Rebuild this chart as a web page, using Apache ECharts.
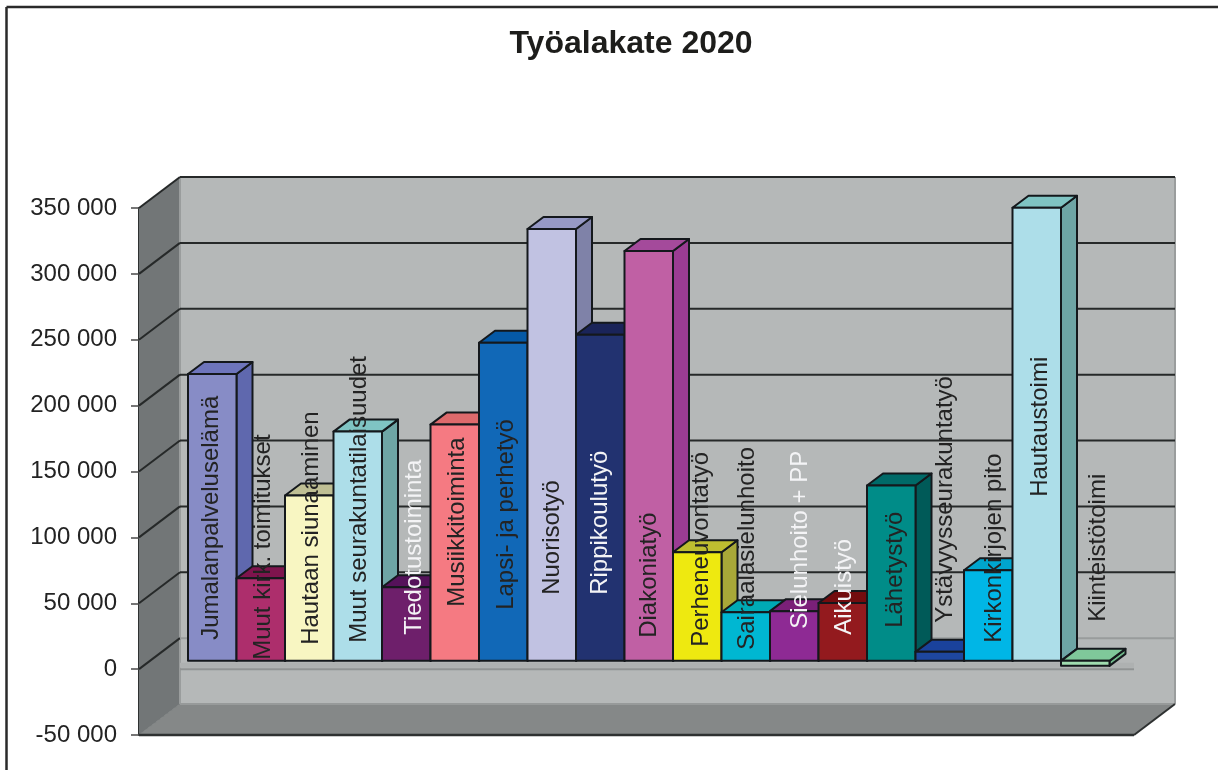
<!DOCTYPE html>
<html>
<head>
<meta charset="utf-8">
<title>Työalakate 2020</title>
<script src="https://cdn.jsdelivr.net/npm/echarts@6/dist/echarts.min.js"></script>
<style>
    html, body { margin: 0; padding: 0; background: #fff; }
    #chart { width: 1218px; height: 770px; }
</style>
</head>
<body>
<div id="chart"></div>
<script>
(() => {
    'use strict'

    const categories = [
        'Jumalanpalveluselämä', 'Muut kirk. toimitukset', 'Hautaan siunaaminen', 'Muut seurakuntatilaisuudet',
        'Tiedotustoiminta', 'Musiikkitoiminta', 'Lapsi- ja perhetyö', 'Nuorisotyö', 'Rippikoulutyö', 'Diakoniatyö',
        'Perheneuvontatyö', 'Sairaalasielunhoito', 'Sielunhoito + PP', 'Aikuistyö', 'Lähetystyö',
        'Ystävyysseurakuntatyö', 'Kirkonkirjojen pito', 'Hautaustoimi', 'Kiinteistötoimi'
    ]
    const values = [
        217700, 62700, 125500, 174000, 55800, 179300, 241400, 327800, 247500, 311100,
        82400, 36900, 37700, 43900, 133100, 6800, 68700, 343900, -3800
    ]
    const yTicks = [-50000, 0, 50000, 100000, 150000, 200000, 250000, 300000, 350000]

    const frontColors = [
        '#878cc6', '#ad2e6c', '#f8f6c2', '#addee9', '#6e1f6b', '#f57a82', '#1168b7', '#c1c2e2', '#223270', '#c060a4',
        '#eee910', '#00b7d2', '#8e2a94', '#931a1e', '#008c88', '#1e47a0', '#00b6e6', '#addee9', '#a0dcb0'
    ]
    const sideColors = [
        '#5f68ae', '#8e1f57', '#c2c090', '#6ea5a5', '#55125a', '#c85f66', '#0d4f90', '#7f82a8', '#1a2458', '#9b3c93',
        '#a8a838', '#0093a8', '#6a1a70', '#730c0e', '#005a58', '#163580', '#0090b8', '#6ea5a5', '#6fb88a'
    ]
    const topColors = [
        '#6e75bc', '#7e144d', '#bfbf94', '#7fc4c3', '#55125a', '#de6a6c', '#0559a6', '#9699c5', '#1a2459', '#a44a9b',
        '#bebe30', '#00aab5', '#7a2078', '#730c0e', '#006a68', '#1a429c', '#00a5ce', '#7fc4c3', '#7fc89a'
    ]

    // hand placed labels in the original: lift above the bar foot, shift from the bar centre
    const labelLift = [21, 1, 16, 18, 26, 54, 51, 66, 66, 23, 14, 11, 32, 26, 33, 38, 18, 164, 39]
    const labelShift = [-1, 3, 2, 2, 8, 3, 3, 1, 0, 1, 4, 2, 6, 2, 4, 6, 6, 4, 13]
    const whiteLabels = ['Tiedotustoiminta', 'Rippikoulutyö', 'Sielunhoito + PP', 'Aikuistyö']

    const AXIS_GAP = 49      // y axis sits left of the bar plane
    const RIGHT_GAP = 24.5
    const BOX_DX = 41, BOX_DY = 31
    const PLANE_DY = 8.3     // bars stand a bit behind the front of the box
    const BAR_DX = 16, BAR_DY = 12

    const poly = (points, fill, stroke, width) => ({
        type: 'polygon',
        shape: {points},
        style: {fill, stroke: stroke || 'none', lineWidth: width || 0, lineJoin: 'round'}
    })
    const line = (x1, y1, x2, y2, stroke, width) => ({
        type: 'line',
        shape: {x1, y1, x2, y2},
        style: {stroke, lineWidth: width}
    })

    const renderBox = (params, api) => {
        const c = params.coordSys
        const x0 = c.x - AXIS_GAP
        const x1 = c.x + c.width + RIGHT_GAP
        const yTop = api.coord([0, yTicks[yTicks.length - 1]])[1]
        const yLow = api.coord([0, yTicks[0]])[1]
        const yZero = api.coord([0, 0])[1]

        const children = [
            poly([[x0 + BOX_DX, yTop - BOX_DY], [x1 + BOX_DX, yTop - BOX_DY], [x1 + BOX_DX, yLow - BOX_DY], [x0 + BOX_DX, yLow - BOX_DY]], '#b5b8b8'),
            poly([[x0, yTop], [x0 + BOX_DX, yTop - BOX_DY], [x0 + BOX_DX, yLow - BOX_DY], [x0, yLow]], '#727677'),
            poly([[x0, yLow], [x0 + BOX_DX, yLow - BOX_DY], [x1 + BOX_DX, yLow - BOX_DY], [x1, yLow]], '#858888'),
            line(x0 + BOX_DX, yTop - BOX_DY, x0 + BOX_DX, yLow - BOX_DY, '#9a9d9d', 2),
            line(x1 + BOX_DX, yTop - BOX_DY, x1 + BOX_DX, yLow - BOX_DY, '#9a9d9d', 2),
            line(x0 + BOX_DX, yLow - BOX_DY, x1 + BOX_DX, yLow - BOX_DY, '#979a9a', 2),
            line(x0, yLow, x0 + BOX_DX, yLow - BOX_DY, '#7d8181', 1),
            line(x1, yLow, x1 + BOX_DX, yLow - BOX_DY, '#2e3131', 2),
            line(x0, yLow, x1, yLow, '#2e3131', 2.5)
        ]

        yTicks.forEach(tick => {
            if (tick === yTicks[0]) return
            const y = api.coord([0, tick])[1]
            const back = tick === 0 ? '#999c9c' : '#262929'
            children.push(line(x0, y, x0 + BOX_DX, y - BOX_DY, '#262929', 2))
            children.push(line(x0 + BOX_DX, y - BOX_DY, x1 + BOX_DX, y - BOX_DY, back, 2))
        })

        // front rim of the zero plane
        children.push(line(x0 + BOX_DX, yZero - 4, x1, yZero - 4, '#aeb1b1', 5))
        children.push(line(x0 + BOX_DX, yZero, x1, yZero, '#909393', 2))

        return {type: 'group', children}
    }

    const renderBar = (params, api) => {
        const i = api.value(0)
        const v = api.value(1)
        const w = api.size([1, 0])[0]
        const xc = api.coord([i, 0])[0]
        const x = xc - w / 2
        const yA = api.coord([i, Math.max(v, 0)])[1] - PLANE_DY
        const yB = api.coord([i, Math.min(v, 0)])[1] - PLANE_DY
        const edge = '#14181c'

        return {
            type: 'group',
            children: [
                poly([[x + w, yA], [x + w + BAR_DX, yA - BAR_DY], [x + w + BAR_DX, yB - BAR_DY], [x + w, yB]], sideColors[i], edge, 2),
                poly([[x, yA], [x + BAR_DX, yA - BAR_DY], [x + w + BAR_DX, yA - BAR_DY], [x + w, yA]], topColors[i], edge, 2),
                poly([[x, yA], [x + w, yA], [x + w, yB], [x, yB]], frontColors[i], edge, 2)
            ]
        }
    }

    const renderLabel = (params, api) => {
        const i = api.value(0)
        const name = categories[i]
        const pt = api.coord([i, 0])
        return {
            type: 'text',
            x: pt[0] + labelShift[i],
            y: pt[1] - PLANE_DY - labelLift[i],
            rotation: Math.PI / 2,
            style: {
                text: name,
                align: 'left',
                verticalAlign: 'middle',
                fontFamily: 'Liberation Sans',
                fontSize: 24,
                fill: whiteLabels.includes(name) ? '#f4f4f6' : '#232323'
            }
        }
    }

    const chart = echarts.init(document.getElementById('chart'))

    chart.setOption({
        animation: false,
        backgroundColor: '#fff',
        title: {
            text: 'Työalakate 2020',
            left: 626,
            top: 23,
            textAlign: 'center',
            textStyle: {fontFamily: 'Liberation Sans', fontSize: 32, fontWeight: 'bold', color: '#1d1d1b'}
        },
        graphic: [
            {type: 'line', shape: {x1: 6.5, y1: 7, x2: 1218, y2: 7}, style: {stroke: '#2a2a2a', lineWidth: 2.5}},
            {type: 'line', shape: {x1: 6.5, y1: 7, x2: 6.5, y2: 770}, style: {stroke: '#2a2a2a', lineWidth: 2.5}}
        ],
        grid: {left: 188, width: 921.5, top: 208, height: 527},
        xAxis: {
            type: 'category',
            data: categories,
            show: false
        },
        yAxis: {
            type: 'value',
            min: yTicks[0],
            max: yTicks[yTicks.length - 1],
            interval: 50000,
            offset: AXIS_GAP,
            splitLine: {show: false},
            axisLine: {show: true, onZero: false, lineStyle: {color: '#2e3131', width: 2}},
            axisTick: {show: true, length: 8, lineStyle: {color: '#4a4a4a', width: 1.5}},
            axisLabel: {
                margin: 22,
                color: '#232323',
                fontFamily: 'Liberation Sans',
                fontSize: 24,
                formatter: value => String(value).replace(/\B(?=(\d{3})+$)/g, ' ')
            }
        },
        series: [
            {
                type: 'custom',
                name: 'box',
                coordinateSystem: 'cartesian2d',
                clip: false,
                silent: true,
                z: 1,
                renderItem: renderBox,
                data: [[0, 0]]
            },
            {
                type: 'custom',
                name: 'Työalakate',
                coordinateSystem: 'cartesian2d',
                clip: false,
                z: 2,
                renderItem: renderBar,
                data: values.map((v, i) => [i, v])
            },
            {
                type: 'custom',
                name: 'labels',
                coordinateSystem: 'cartesian2d',
                clip: false,
                silent: true,
                z: 3,
                renderItem: renderLabel,
                data: values.map((v, i) => [i, 0])
            }
        ]
    })
})()
</script>
</body>
</html>
